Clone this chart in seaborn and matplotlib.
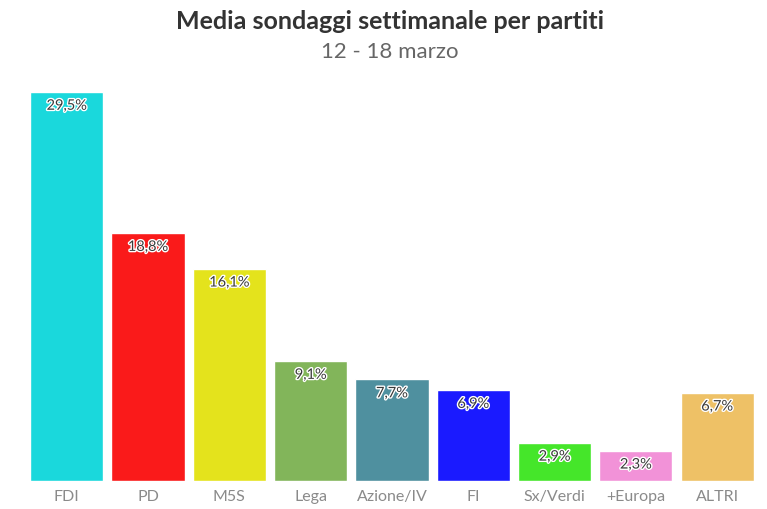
import matplotlib
matplotlib.use("Agg")
import matplotlib.pyplot as plt
import matplotlib.patheffects as pe
import seaborn as sns
import pandas as pd

# dati
partiti = ["FDI", "PD", "M5S", "Lega", "Azione/IV", "FI", "Sx/Verdi", "+Europa", "ALTRI"]
valori = [29.5, 18.8, 16.1, 9.1, 7.7, 6.9, 2.9, 2.3, 6.7]
colori = ["#1ad8dc", "#fa1a1a", "#e4e31c", "#82b55a", "#4f909f", "#1a1aff",
          "#45e62a", "#f292d8", "#eec166"]

df = pd.DataFrame({"partito": partiti, "valore": valori})

sns.set_style("white")
plt.rcParams['font.family'] = ['Lato', 'DejaVu Sans']

fig = plt.figure(figsize=(7.67, 5.10), dpi=100)
ax = fig.add_axes([0.034, 0.055, 0.954, 0.763])

sns.barplot(data=df, x="partito", y="valore", hue="partito", palette=colori,
            legend=False, width=0.9, saturation=1, ax=ax)

ax.set_ylim(0, 29.5)
ax.set_xlim(-0.5, 8.5)
ax.set_xlabel("")
ax.set_ylabel("")
ax.set_yticks([])
ax.tick_params(axis="x", length=0, labelsize=11.5, labelcolor="#8a8a8a", pad=6)
sns.despine(left=True, bottom=True)

# etichette dentro le barre
for i, v in enumerate(valori):
    ax.annotate(f"{v:.1f}%".replace(".", ","), (i, v), xytext=(0, -5),
                textcoords="offset points", ha="center", va="top",
                fontsize=10.5, color="#3a3a3a",
                path_effects=[pe.withStroke(linewidth=2, foreground="white")])

fig.text(0.508, 0.958, "Media sondaggi settimanale per partiti", ha="center",
         va="center", fontsize=18, fontweight="bold", color="#333333")
fig.text(0.508, 0.898, "12 - 18 marzo", ha="center", va="center",
         fontsize=16, color="#666666")

fig.savefig("out.png", dpi=100)
